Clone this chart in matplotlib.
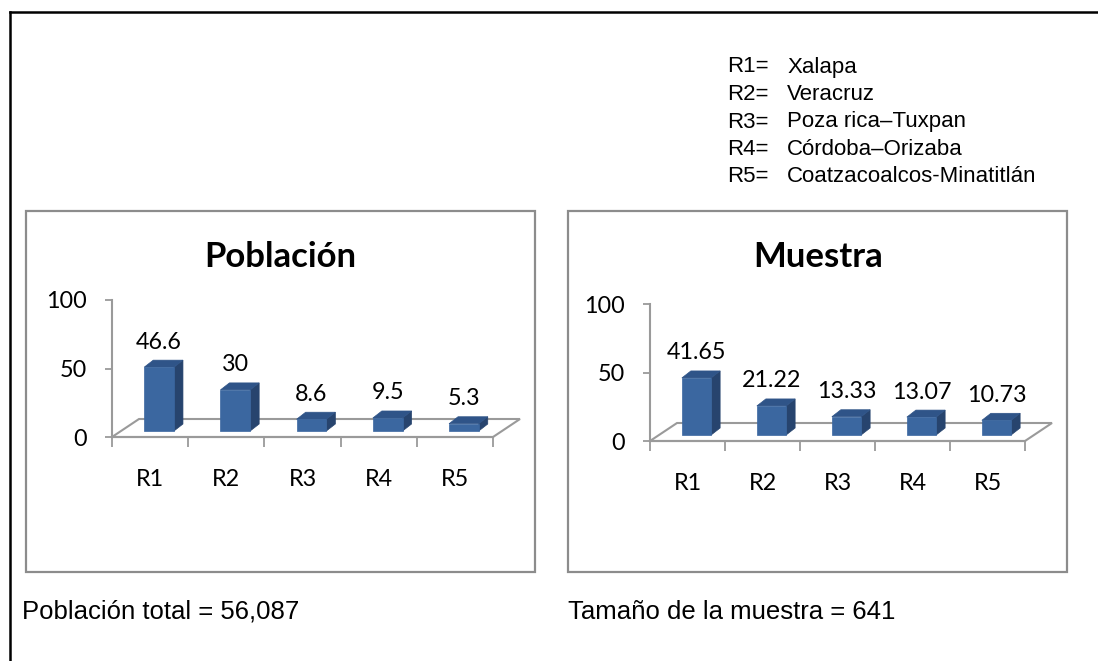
import matplotlib
matplotlib.use("Agg")
import matplotlib.pyplot as plt
from matplotlib.patches import Polygon, Rectangle
from matplotlib.lines import Line2D

# ---------------- data ----------------
categories = ["R1", "R2", "R3", "R4", "R5"]
poblacion = [46.6, 30, 8.6, 9.5, 5.3]
muestra = [41.65, 21.22, 13.33, 13.07, 10.73]
poblacion_labels = ["46.6", "30", "8.6", "9.5", "5.3"]
muestra_labels = ["41.65", "21.22", "13.33", "13.07", "10.73"]
yticks = [0, 50, 100]
legend_codes = ["R1=", "R2=", "R3=", "R4=", "R5="]
legend_names = ["Xalapa", "Veracruz", "Poza rica\u2013Tuxpan", "C\u00f3rdoba\u2013Orizaba",
                "Coatzacoalcos-Minatitl\u00e1n"]
titles = ["Poblaci\u00f3n", "Muestra"]
footers = ["Poblaci\u00f3n total = 56,087", "Tama\u00f1o de la muestra = 641"]

W, H = 1098, 661
DPI = 100
fig = plt.figure(figsize=(W / DPI, H / DPI), dpi=DPI)
fig.patch.set_facecolor("white")

CAL = ["Lato", "DejaVu Sans"]
ARIAL = ["Liberation Sans", "DejaVu Sans"]

FRONT = "#3B67A0"
SIDE = "#27446E"
TOP = "#2F5488"
GRAY = "#9A9A9A"

FS = 16.8       # chart text size
FS_TITLE = 25
FS_LEG = 16.0
FS_FOOT = 18.5


def fx(px):
    return px / W


def fy(py):
    return 1 - py / H


# outer border (top and left only visible)
fig.add_artist(Line2D([fx(10), 1.0], [fy(12), fy(12)], color="black", lw=1.8,
                      transform=fig.transFigure))
fig.add_artist(Line2D([fx(10), fx(10)], [fy(12), 0.0], color="black", lw=1.8,
                      transform=fig.transFigure))

# panel boxes
for (x0, x1) in [(26, 535), (568, 1067)]:
    fig.add_artist(Rectangle((fx(x0), fy(572)), fx(x1) - fx(x0), fy(211) - fy(572),
                             transform=fig.transFigure, fill=False,
                             edgecolor="#8C8C8C", lw=1.6))


def draw_chart(rect_px, values, labels, title, title_x):
    left, right, top, bottom = rect_px  # pixel coords: x front-left, x front-right, y(100), y(0)
    ax = fig.add_axes([fx(left), fy(bottom), fx(right) - fx(left), fy(top) - fy(bottom)])
    n = len(values)
    ax.set_xlim(0, n)
    ax.set_ylim(0, 100)
    ax.patch.set_visible(False)
    for s in ["top", "right"]:
        ax.spines[s].set_visible(False)
    for s in ["left", "bottom"]:
        ax.spines[s].set_color(GRAY)
        ax.spines[s].set_linewidth(1.5)

    ppx = (right - left) / n   # pixels per category unit
    ppy = (bottom - top) / 100.0  # pixels per value unit

    # floor parallelogram (depth)
    dfx, dfy = 27 / ppx, 18 / ppy
    floor = Polygon([(0, 0), (n, 0), (n + dfx, dfy), (dfx, dfy)], closed=True,
                    fill=False, edgecolor=GRAY, lw=1.5, clip_on=False, zorder=1)
    ax.add_patch(floor)

    # bars (pseudo 3D)
    w = 0.39
    ox, oy = 9 / ppx, 6 / ppy
    dx, dy = 9 / ppx, 7 / ppy
    xs = [i + 0.5 for i in range(n)]
    ax.bar([x + ox for x in xs], values, width=w, bottom=oy, color=FRONT,
           edgecolor=FRONT, lw=0.5, zorder=3, clip_on=False)
    for x, v in zip(xs, values):
        x0, x1 = x + ox - w / 2, x + ox + w / 2
        y0, y1 = oy, oy + v
        side = Polygon([(x1, y0), (x1, y1), (x1 + dx, y1 + dy), (x1 + dx, y0 + dy)],
                       closed=True, facecolor=SIDE, edgecolor=SIDE, lw=0.5,
                       zorder=2, clip_on=False)
        topf = Polygon([(x0, y1), (x1, y1), (x1 + dx, y1 + dy), (x0 + dx, y1 + dy)],
                       closed=True, facecolor=TOP, edgecolor=TOP, lw=0.5,
                       zorder=2, clip_on=False)
        ax.add_patch(side)
        ax.add_patch(topf)

    # value labels
    for x, v, lab in zip(xs, values, labels):
        ax.annotate(lab, (x + ox, v), xytext=(0, 31 * 0.72), textcoords="offset points",
                    ha="center", va="center", fontsize=FS, family=CAL,
                    color="black", annotation_clip=False)

    # y axis ticks
    ax.set_yticks(yticks)
    ax.set_yticklabels([str(t) for t in yticks], family=CAL, fontsize=FS)
    ax.tick_params(axis="y", direction="out", length=5, width=1.3, color=GRAY, pad=13)

    # x axis: major ticks at category boundaries, labels at centers (minor)
    ax.set_xticks(range(n + 1))
    ax.set_xticklabels([])
    ax.tick_params(axis="x", which="major", direction="out", length=7, width=1.3, color=GRAY)
    ax.set_xticks(xs, minor=True)
    ax.set_xticklabels(categories, minor=True, family=CAL, fontsize=FS)
    ax.tick_params(axis="x", which="minor", length=0, pad=23)

    fig.text(fx(title_x), fy(257), title, ha="center", va="center",
             family=CAL, fontsize=FS_TITLE, fontweight="bold")
    return ax


draw_chart((112, 493, 300, 437), poblacion, poblacion_labels, titles[0], 280.5)
draw_chart((650, 1025, 304, 441), muestra, muestra_labels, titles[1], 818)

# legend text
for i, (code, name) in enumerate(zip(legend_codes, legend_names)):
    y = 67 + i * 27.5
    fig.text(fx(727), fy(y), code, ha="left", va="center", family=ARIAL, fontsize=FS_LEG)
    fig.text(fx(787), fy(y), name, ha="left", va="center", family=ARIAL, fontsize=FS_LEG)

# footers
fig.text(fx(22), fy(612), footers[0], ha="left", va="center", family=ARIAL, fontsize=FS_FOOT)
fig.text(fx(568), fy(612), footers[1], ha="left", va="center", family=ARIAL, fontsize=FS_FOOT)

fig.savefig("out.png", dpi=DPI, facecolor="white")
